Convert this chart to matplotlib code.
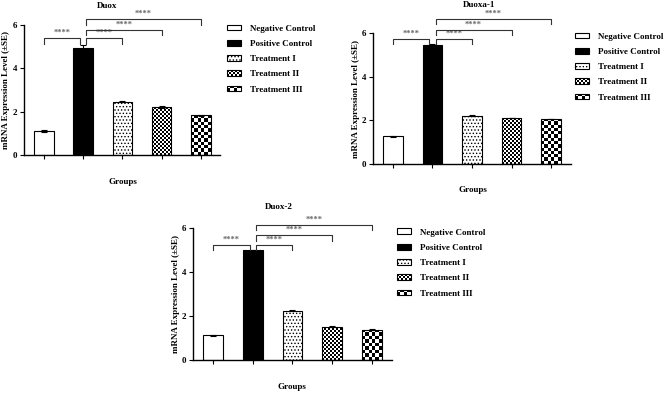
import numpy as np
import matplotlib
matplotlib.use('Agg')
import matplotlib.pyplot as plt
from matplotlib.patches import Rectangle
from matplotlib.legend_handler import HandlerBase

plt.rcParams['font.family'] = ['Liberation Serif', 'DejaVu Serif']
plt.rcParams['font.weight'] = 'bold'
plt.rcParams['hatch.linewidth'] = 0.6

groups = ['Negative Control', 'Positive Control', 'Treatment I', 'Treatment II', 'Treatment III']
titles = ['Duox', 'Duoxa-1', 'Duox-2']

duox_vals = [1.12, 4.95, 2.46, 2.20, 1.83]
duox_err = [0.04, 0.15, 0.02, 0.04, 0.02]
duoxa1_vals = [1.26, 5.45, 2.22, 2.10, 2.07]
duoxa1_err = [0.02, 0.05, 0.02, 0.01, 0.01]
duox2_vals = [1.12, 4.98, 2.25, 1.52, 1.38]
duox2_err = [0.02, 0.03, 0.03, 0.03, 0.02]

sig_pairs = [(0, 1), (1, 2), (1, 3), (1, 4)]
sig_labels = ['****', '****', '****', '****']
duox_sig_y = [5.39, 5.39, 5.77, 6.26]
duoxa1_sig_y = [5.73, 5.73, 6.14, 6.64]
duox2_sig_y = [5.23, 5.23, 5.68, 6.14]

yticks = [0, 2, 4, 6]

W, H = 666, 393
fig = plt.figure(figsize=(W / 100, H / 100), dpi=100)


def px_rect(x0, ytop, w, h):
    return [x0 / W, (H - ytop - h) / H, w / W, h / H]


class CheckerHandler(HandlerBase):
    def __init__(self, nx, ny):
        super().__init__()
        self.nx, self.ny = nx, ny

    def create_artists(self, legend, orig_handle, xdescent, ydescent,
                       width, height, fontsize, trans):
        arts = [Rectangle((-xdescent, -ydescent), width, height, facecolor='white',
                          edgecolor='none', transform=trans)]
        nx, ny = self.nx, self.ny
        dx, dy = width / nx, height / ny
        for i in range(nx):
            for j in range(ny):
                if (i + j) % 2 == 0:
                    arts.append(Rectangle((-xdescent + i * dx, -ydescent + j * dy), dx, dy,
                                          facecolor='black', edgecolor='none', transform=trans))
        arts.append(Rectangle((-xdescent, -ydescent), width, height, facecolor='none',
                              edgecolor='black', linewidth=0.8, transform=trans))
        return arts


panels = [
    dict(vals=duox_vals, err=duox_err, sig=duox_sig_y, rect=(24.4, 25, 196, 130),
         title=(107, 6), xlab=(123, 182), leg=(227, 24.5), ylx=-0.075),
    dict(vals=duoxa1_vals, err=duoxa1_err, sig=duoxa1_sig_y, rect=(373.25, 33, 197.5, 131),
         title=(479, 5), xlab=(473, 190), leg=(575, 32.5), ylx=-0.068),
    dict(vals=duox2_vals, err=duox2_err, sig=duox2_sig_y, rect=(193.1, 228, 198.75, 132),
         title=(279, 207), xlab=(292, 387), leg=(397, 228.5), ylx=-0.068),
]

faces = ['white', 'black', 'white', 'white', 'white']
hatches = [None, None, '.....', None, None]
checker_cols = {3: 10, 4: 6}

for p, title in zip(panels, titles):
    ax = fig.add_axes(px_rect(*p['rect']))
    x = np.arange(len(groups))
    bars = ax.bar(x, p['vals'], width=0.5, yerr=p['err'], color=faces,
                  edgecolor='black', linewidth=0.8, capsize=2,
                  error_kw=dict(elinewidth=0.8, capthick=0.8, ecolor='black'),
                  zorder=2)
    for b, h in zip(bars, hatches):
        if h:
            b.set_hatch(h)
    # checkerboard fills for Treatment II and III
    for k, ncol in checker_cols.items():
        b = bars[k]
        bx, by, bw, bh = b.get_x(), b.get_y(), b.get_width(), b.get_height()
        cell_px = 19.6 / ncol
        nrow = max(1, int(round(bh * 21.8 / cell_px)))
        board = (np.add.outer(np.arange(nrow), np.arange(ncol)) % 2).astype(float)
        im = ax.imshow(board, cmap='gray', extent=[bx, bx + bw, by, by + bh],
                       aspect='auto', interpolation='nearest', zorder=1.5, origin='lower')
        im.set_clip_path(b)
        b.set_facecolor('none')

    ax.set_xlim(-0.5, 4.5)
    ax.set_ylim(0, 6)
    ax.set_xticks(x)
    ax.set_xticklabels([])
    ax.set_yticks(yticks)
    ax.set_yticklabels([str(t) for t in yticks], fontsize=6.5, fontweight='bold')
    ax.tick_params(axis='both', direction='out', length=3, width=0.8, pad=2)
    for s in ['top', 'right']:
        ax.spines[s].set_visible(False)
    for s in ['left', 'bottom']:
        ax.spines[s].set_linewidth(1.0)
    ax.set_ylabel('mRNA Expression Level (±SE)', fontsize=6.5, fontweight='bold')
    ax.yaxis.set_label_coords(p['ylx'], 0.5)

    # significance brackets
    for (i, j), yy, lab in zip(sig_pairs, p['sig'], sig_labels):
        xi = i + (0.08 if i == 1 else 0.0)
        xj = j - (0.08 if j == 1 else 0.0)
        d = 0.25
        ax.plot([xi, xi, xj, xj], [yy - d, yy, yy, yy - d], color='#333333',
                linewidth=0.8, clip_on=False, zorder=3)
        ax.text((xi + xj) / 2, yy + 0.05, lab, ha='center', va='bottom',
                fontsize=6, color='#666666', clip_on=False)

    fig.text(p['title'][0] / W, 1 - p['title'][1] / H, title, ha='center', va='center',
             fontsize=6.5, fontweight='bold')
    fig.text(p['xlab'][0] / W, 1 - p['xlab'][1] / H, 'Groups', ha='center', va='center',
             fontsize=6.5, fontweight='bold')

    handles = [Rectangle((0, 0), 1, 1, facecolor=faces[k], edgecolor='black', linewidth=0.8,
                         hatch=hatches[k]) for k in range(5)]
    handles[3] = Rectangle((0, 0), 1, 1, facecolor='white', edgecolor='black')
    handles[4] = Rectangle((0, 0), 1, 1, facecolor='white', edgecolor='black')
    fig.legend(handles, groups, loc='upper left',
               bbox_to_anchor=(p['leg'][0] / W, 1 - p['leg'][1] / H),
               bbox_transform=fig.transFigure, frameon=False, fontsize=6.5,
               handlelength=1.5, handleheight=0.6, handletextpad=1.1,
               labelspacing=0.8, borderpad=0, borderaxespad=0,
               handler_map={handles[3]: CheckerHandler(7, 3),
                            handles[4]: CheckerHandler(4, 2)},
               prop=dict(weight='bold', size=6.5))

fig.savefig('out.png', dpi=100)
